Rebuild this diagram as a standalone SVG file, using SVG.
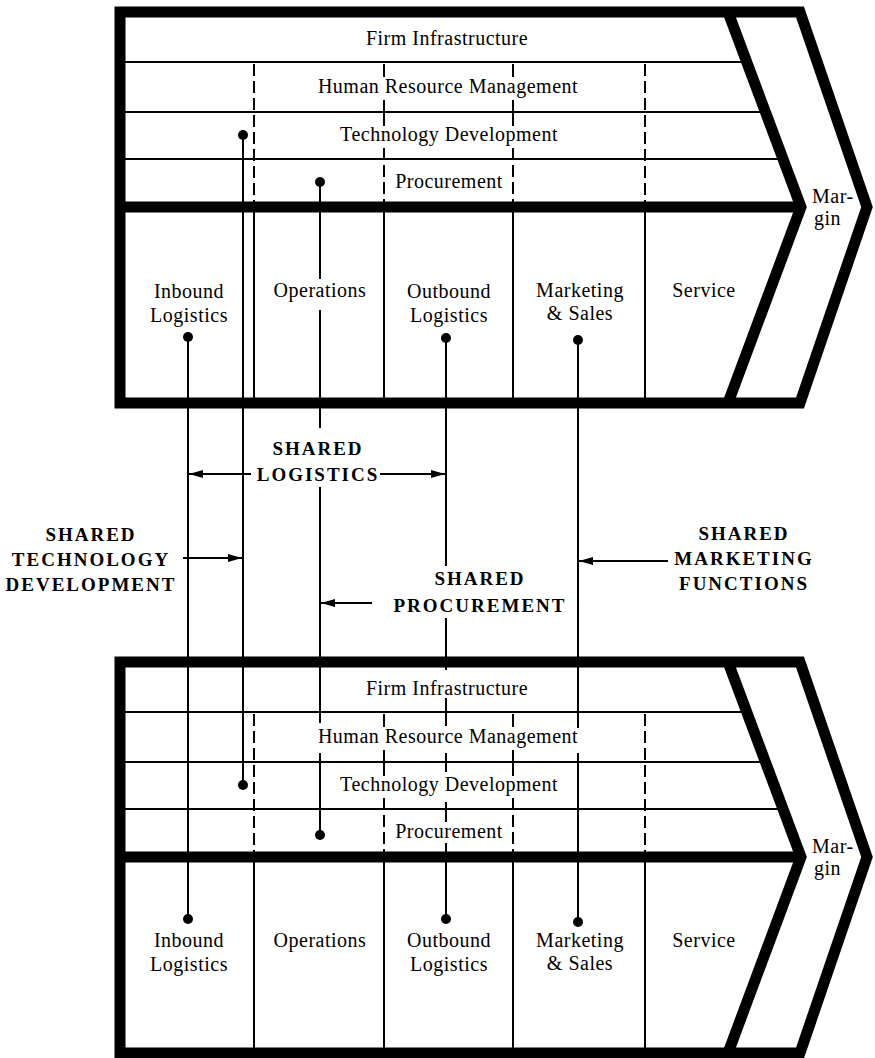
<svg xmlns="http://www.w3.org/2000/svg" width="875" height="1058" viewBox="0 0 875 1058">
<defs>
<style>
.lbl{font-family:"Liberation Serif","Times New Roman",serif;font-size:20px;letter-spacing:0.5px;text-anchor:middle;fill:#000}
.lft{text-anchor:start}
.big{font-family:"Liberation Serif","Times New Roman",serif;font-weight:bold;font-size:19px;letter-spacing:2px;text-anchor:middle;fill:#000}
.frame{fill:none;stroke:#000;stroke-width:11;stroke-linejoin:miter;stroke-miterlimit:10}
.thin{stroke:#000;stroke-width:2;fill:none}
.dash{stroke:#000;stroke-width:2;stroke-dasharray:12 5;fill:none}
.conn{stroke:#000;stroke-width:2;fill:none}
.arr{stroke:#000;stroke-width:2;fill:none;marker-end:url(#ah)}
.dot{fill:#000}
</style>
<marker id="ah" viewBox="0 0 14 8" refX="14" refY="4" markerWidth="14" markerHeight="8" markerUnits="userSpaceOnUse" orient="auto">
<path d="M0,0 L14,4 L0,8 Z" fill="#000"/>
</marker>
<g id="chainFrame">
<path class="thin" d="M120,62 H747 M120,112 H765 M120,159 H783"/>
<path class="dash" d="M254,64 V205 M645,64 V205 M384,148 V205 M513,148 V205"/>
<path class="thin" d="M384,64 V77 M384,100 V126 M513,64 V77 M513,100 V126"/>
<path class="thin" d="M254,212 V398 M384,212 V398 M513,212 V398 M645,212 V398"/>
<path class="frame" d="M120,207 H801"/>
<path class="frame" d="M728,12 L801,207 L728,403"/>
<path class="frame" d="M120,12 H800 L867,207 L800,403 H120 Z"/>
</g>
</defs>

<g id="chain-top">
<use href="#chainFrame"/>
<g id="top-firm-infrastructure"><text class="lbl" x="447" y="45">Firm Infrastructure</text></g>
<g id="top-hrm"><text class="lbl" x="448" y="93">Human Resource Management</text></g>
<g id="top-technology"><text class="lbl" x="449" y="141">Technology Development</text></g>
<g id="top-procurement"><text class="lbl" x="449" y="188">Procurement</text></g>
<g id="top-inbound"><text class="lbl" x="189" y="298">Inbound</text><text class="lbl" x="189" y="322">Logistics</text></g>
<g id="top-operations"><text class="lbl" x="320" y="297">Operations</text></g>
<g id="top-outbound"><text class="lbl" x="449" y="298">Outbound</text><text class="lbl" x="449" y="322">Logistics</text></g>
<g id="top-marketing"><text class="lbl" x="580" y="297">Marketing</text><text class="lbl" x="580" y="320">&amp; Sales</text></g>
<g id="top-service"><text class="lbl" x="704" y="297">Service</text></g>
<g id="top-margin"><text class="lbl lft" x="812" y="203">Mar-</text><text class="lbl lft" x="814" y="225">gin</text></g>
</g>

<g id="chain-bottom">
<use href="#chainFrame" y="650"/>
<g id="bottom-firm-infrastructure"><text class="lbl" x="447" y="695">Firm Infrastructure</text></g>
<g id="bottom-hrm"><text class="lbl" x="448" y="743">Human Resource Management</text></g>
<g id="bottom-technology"><text class="lbl" x="449" y="791">Technology Development</text></g>
<g id="bottom-procurement"><text class="lbl" x="449" y="838">Procurement</text></g>
<g id="bottom-inbound"><text class="lbl" x="189" y="947">Inbound</text><text class="lbl" x="189" y="971">Logistics</text></g>
<g id="bottom-operations"><text class="lbl" x="320" y="947">Operations</text></g>
<g id="bottom-outbound"><text class="lbl" x="449" y="947">Outbound</text><text class="lbl" x="449" y="971">Logistics</text></g>
<g id="bottom-marketing"><text class="lbl" x="580" y="947">Marketing</text><text class="lbl" x="580" y="970">&amp; Sales</text></g>
<g id="bottom-service"><text class="lbl" x="704" y="947">Service</text></g>
<g id="bottom-margin"><text class="lbl lft" x="812" y="853">Mar-</text><text class="lbl lft" x="814" y="875">gin</text></g>
</g>

<g id="label-shared-logistics"><text class="big" x="318" y="455">SHARED</text><text class="big" x="318" y="481">LOGISTICS</text></g>
<g id="label-shared-technology"><text class="big" x="91" y="541">SHARED</text><text class="big" x="91" y="566">TECHNOLOGY</text><text class="big" x="91" y="591">DEVELOPMENT</text></g>
<g id="label-shared-procurement"><text class="big" x="480" y="585">SHARED</text><text class="big" x="480" y="612">PROCUREMENT</text></g>
<g id="label-shared-marketing"><text class="big" x="744" y="540">SHARED</text><text class="big" x="744" y="565">MARKETING</text><text class="big" x="744" y="590">FUNCTIONS</text></g>

<g id="connectors">
<path class="conn" d="M188,337 V919"/>
<path class="conn" d="M243,135 V785"/>
<path class="conn" d="M320,182 V279 M320,310 V428 M320,487 V723 M320,753 V835"/>
<path class="conn" d="M446,338 V566 M446,618 V670 M446,698 V726 M446,753 V772 M446,802 V822 M446,843 V919"/>
<path class="conn" d="M578,340 V728 M578,753 V922"/>
<circle class="dot" cx="243" cy="135" r="5"/>
<circle class="dot" cx="320" cy="182" r="5"/>
<circle class="dot" cx="188" cy="337" r="5"/>
<circle class="dot" cx="446" cy="338" r="5"/>
<circle class="dot" cx="578" cy="340" r="5"/>
<circle class="dot" cx="243" cy="785" r="5"/>
<circle class="dot" cx="320" cy="835" r="5"/>
<circle class="dot" cx="188" cy="919" r="5"/>
<circle class="dot" cx="446" cy="919" r="5"/>
<circle class="dot" cx="578" cy="922" r="5"/>
<line class="arr" x1="251" y1="474" x2="189" y2="474"/>
<line class="arr" x1="380" y1="474" x2="445" y2="474"/>
<line class="arr" x1="183" y1="558" x2="242" y2="558"/>
<line class="arr" x1="372" y1="603" x2="321" y2="603"/>
<line class="arr" x1="668" y1="561" x2="579" y2="561"/>
</g>
</svg>
